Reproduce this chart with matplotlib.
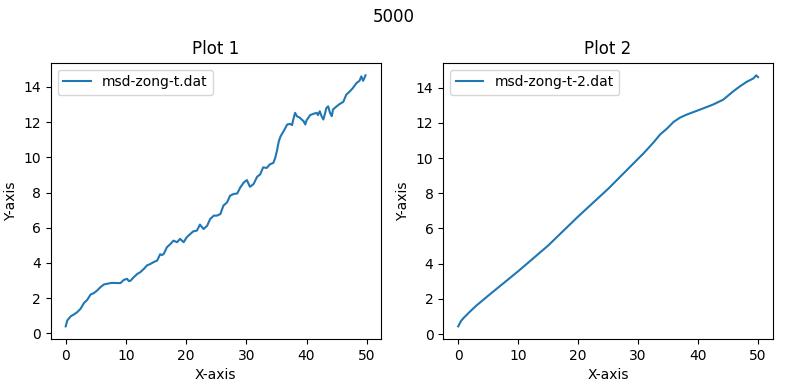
import matplotlib
matplotlib.use("Agg")
import matplotlib.pyplot as plt

x1 = [0.0, 0.28, 0.83, 1.38, 1.93, 2.48, 3.03, 3.59, 4.14, 4.69, 5.24, 5.79, 6.35, 6.9,
      7.45, 8.0, 8.55, 9.1, 9.66, 10.2, 10.5, 10.8, 11.3, 11.9, 12.4, 13.0, 13.5, 14.1,
      14.6, 15.2, 15.7, 16.0, 16.3, 16.8, 17.4, 17.9, 18.5, 19.0, 19.6, 20.1, 20.7, 21.2,
      21.8, 22.3, 22.9, 23.5, 24.0, 24.6, 25.1, 25.7, 26.2, 26.8, 27.3, 27.9, 28.5, 29.0,
      29.6, 30.1, 30.6, 31.2, 31.8, 32.3, 32.8, 33.4, 33.9, 34.5, 34.8, 35.1, 35.4, 35.7,
      36.2, 36.8, 37.3, 37.6, 37.8, 38.1, 38.4, 38.9, 39.2, 39.5, 39.8, 40.0, 40.6, 41.1,
      41.7, 41.9, 42.2, 42.5, 42.8, 43.1, 43.3, 43.6, 43.9, 44.2, 44.4, 45.0, 45.5, 46.1,
      46.6, 47.2, 47.7, 48.3, 48.8, 49.1, 49.4, 49.8]
y1 = [0.40, 0.74, 0.97, 1.08, 1.21, 1.40, 1.72, 1.91, 2.21, 2.29, 2.44, 2.63, 2.78, 2.82,
      2.86, 2.87, 2.86, 2.86, 3.04, 3.10, 2.97, 3.00, 3.19, 3.38, 3.48, 3.67, 3.86, 3.95,
      4.05, 4.14, 4.50, 4.45, 4.52, 4.89, 5.08, 5.27, 5.18, 5.37, 5.18, 5.46, 5.65, 5.80,
      5.84, 6.18, 5.93, 6.12, 6.50, 6.69, 6.69, 6.78, 7.26, 7.44, 7.82, 7.92, 7.95, 8.29,
      8.58, 8.71, 8.33, 8.48, 8.90, 9.03, 9.43, 9.40, 9.60, 9.69, 9.97, 10.39, 10.92, 11.20,
      11.49, 11.87, 11.90, 11.83, 12.15, 12.53, 12.34, 12.25, 12.15, 12.06, 11.87, 12.10,
      12.40, 12.47, 12.53, 12.40, 12.62, 12.34, 12.15, 12.53, 12.81, 12.90, 12.53, 12.34,
      12.72, 12.90, 13.03, 13.15, 13.56, 13.75, 13.94, 14.22, 14.35, 14.60, 14.35, 14.66]

x2 = [0.0, 0.5, 1.0, 2.0, 3.0, 5.0, 10.0, 15.0, 20.0, 25.0, 30.0, 31.0, 32.6, 33.7,
      34.8, 35.9, 37.0, 38.1, 40.3, 42.5, 44.2, 45.9, 47.0, 48.1, 49.2, 49.7, 50.0]
y2 = [0.44, 0.76, 0.95, 1.29, 1.61, 2.18, 3.57, 5.03, 6.68, 8.25, 9.96, 10.30, 10.90,
      11.35, 11.67, 12.05, 12.30, 12.47, 12.75, 13.04, 13.32, 13.80, 14.08, 14.33, 14.52,
      14.70, 14.60]

fig, axes = plt.subplots(1, 2, figsize=(7.88, 3.9), dpi=100)
fig.subplots_adjust(left=0.0643, right=0.981, top=0.839, bottom=0.131, wspace=0.19)
fig.suptitle("5000")

axes[0].plot(x1, y1, label="msd-zong-t.dat")
axes[0].set_title("Plot 1")
axes[1].plot(x2, y2, label="msd-zong-t-2.dat")
axes[1].set_title("Plot 2")
for ax in axes:
    ax.set_xlabel("X-axis")
    ax.set_ylabel("Y-axis")
    ax.legend(loc="upper left")
    ax.set_yticks([0, 2, 4, 6, 8, 10, 12, 14])

fig.savefig("out.png")
